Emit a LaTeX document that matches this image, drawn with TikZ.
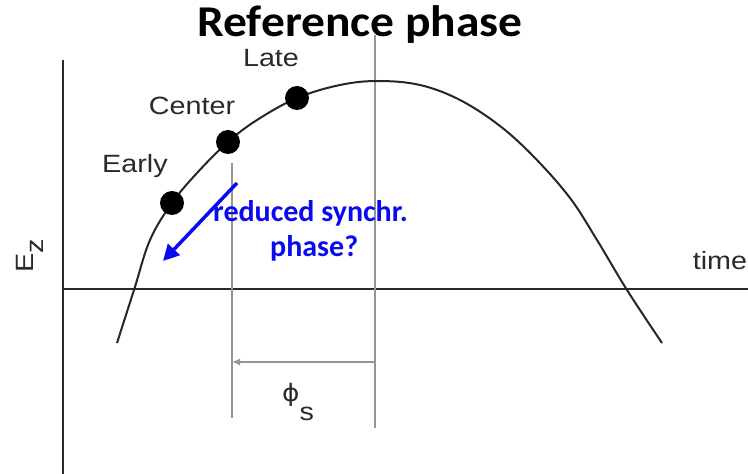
\documentclass[tikz,border=0pt]{standalone}
\usepackage{fontspec}
\setmainfont{Liberation Sans}
\newfontfamily\lblfont{Liberation Sans}[FakeStretch=1.15]
\newfontfamily\ttlfont{Carlito}[FakeStretch=1.08]
\newfontfamily\notefont{Carlito}
\newfontfamily\phifont{DejaVu Sans}[FakeStretch=1.1]
\usepackage{xcolor}
\usetikzlibrary{positioning, arrows.meta, calc}
\definecolor{ink}{HTML}{2A2A2A}
\definecolor{guidegray}{HTML}{959595}
\definecolor{noteblue}{HTML}{0A0AF0}

\begin{document}
\begin{tikzpicture}[x=1pt, y=1pt,
  axis/.style={draw=ink, line width=2.4pt},
  guide/.style={draw=guidegray, line width=1.7pt},
  wave/.style={draw=black!85, line width=2pt},
  dot/.style={circle, fill=black, inner sep=0pt, minimum size=24pt},
  lbl/.style={text=ink, font=\lblfont\fontsize{25}{30}\selectfont, inner sep=0pt},
  ttl/.style={font=\ttlfont\bfseries\fontsize{44}{52}\selectfont, inner sep=0pt},
  note/.style={text=noteblue, font=\notefont\bfseries\fontsize{30}{36}\selectfont, inner sep=0pt, anchor=base west}]
  \useasboundingbox (0,0) rectangle (748,474);

  % axes
  \coordinate (ytop) at (63,414);
  \coordinate (ybot) at (63,0);
  \coordinate (O)    at (63,185);
  \coordinate (xend) at (748,185);
  \draw[axis] (ytop) -- (ybot);
  \draw[axis] (O) -- (xend);

  % reference lines and synchronous phase
  \draw[guide] (232,311) -- (232,56);
  \draw[guide] (375,439) -- (375,46);
  \coordinate (ps) at (375,112);
  \coordinate (pe) at (232,112);
  \draw[guide, line width=1.4pt, -{Latex[length=8pt, width=7pt]}] (ps) -- (pe);

  % accelerating field
  \draw[wave] plot[smooth, tension=0.6] coordinates {(117,131) (134,184) (150,234) (172,271)
    (197,301) (228,332) (257,354) (297,376) (340,389) (378,393) (420,389) (460,374)
    (500,348) (535,316) (570,276) (597,234) (627,184) (662,131)};

  \node[dot] (early)  at (172,271) {};
  \node[dot] (center) at (228,332) {};
  \node[dot] (late)   at (297,376) {};

  \node[lbl, anchor=base] (earlyL)  at (135,301) {Early};
  \node[lbl, anchor=base] (centerL) at (192,359) {Center};
  \node[lbl, anchor=base] (lateL)   at (271,407) {Late};
  \node[lbl, anchor=base] (timeL)   at (720,204) {time};
  \node[lbl, rotate=90, anchor=base west] (ez) at (33,201) {E\raisebox{-10pt}{z}};
  \node[lbl, anchor=base west] (phis) at (282,72) {{\phifont\fontsize{24}{28}\selectfont ϕ}\raisebox{-19pt}{s}};

  \node[ttl, anchor=base] (title) at (360,437) {Reference phase};

  % question
  \node[note] (synA) at (213,252) {reduced synchr.};
  \node[note] (synB) at (270,217) {phase?};
  \coordinate (bs) at (237,291);
  \coordinate (be) at (163,213);
  \draw[noteblue, line width=3.5pt, -{Triangle[length=16pt, width=16pt]}] (bs) -- (be);
\end{tikzpicture}
\end{document}
